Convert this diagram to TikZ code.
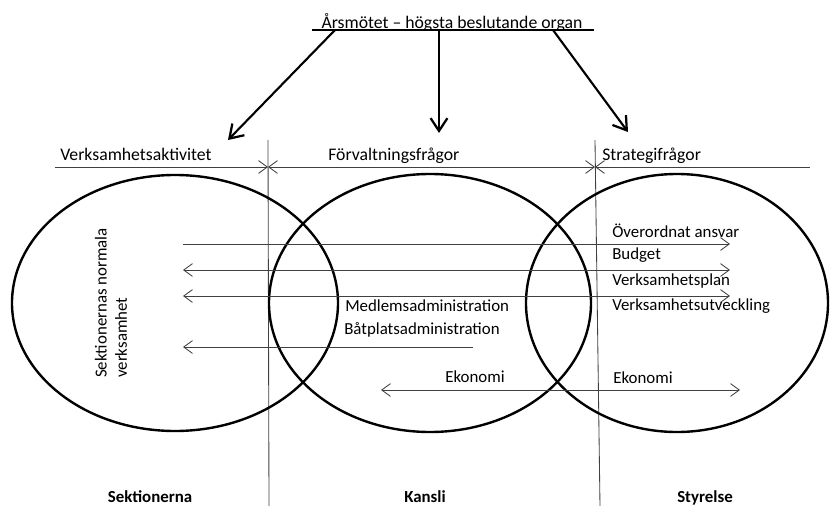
\documentclass[tikz,border=0pt]{standalone}
\usepackage{fontspec}
\setmainfont{Carlito}
\usepackage{tikz}
\usetikzlibrary{arrows.meta}

\begin{document}
\begin{tikzpicture}[x=0.025cm, y=-0.025cm,
  lbl/.style={font=\fontsize{12}{14.5}\selectfont, inner sep=0pt, anchor=base west},
  head/.style={lbl, font=\fontsize{12.6}{15}\selectfont},
  big/.style={line width=1.5pt, -{Straight Barb[length=3.2mm, width=4.2mm, line width=1.6pt]}},
  thinline/.style={line width=0.6pt, black!75},
  barb/.tip={Straight Barb[length=2.2mm, width=3.2mm, line width=0.6pt]},
  ring/.style={line width=1.7pt}]
\useasboundingbox (0,0) rectangle (830,506);
% title
\node[lbl, anchor=base, font=\fontsize{12.6}{15}\selectfont] (title) at (452,28) {Årsmötet – högsta beslutande organ};
\coordinate (tl) at (312,30);
\coordinate (tr) at (594,30);
\draw[line width=1.5pt] (tl)--(tr);
% arrows from the title
\coordinate (a0) at (335,30);
\coordinate (a1) at (439,30);
\coordinate (a2) at (553,30);
\coordinate (b0) at (228,140);
\coordinate (b1) at (439,133);
\coordinate (b2) at (628,132);
\draw[big] (a0)--(b0);
\draw[big] (a1)--(b1);
\draw[big] (a2)--(b2);
% headings
\node[head] (verk) at (60,160) {Verksamhetsaktivitet};
\node[head] (forv) at (328,160) {Förvaltningsfrågor};
\node[head] (strat) at (602,160) {Strategifrågor};
\coordinate (h0) at (55,167);
\coordinate (h1) at (268,167);
\coordinate (h2) at (595,167);
\coordinate (h3) at (810,167);
\draw[thinline, -barb] (h0)--(h1);
\draw[thinline, barb-barb] (h1)--(h2);
\draw[thinline, barb-] (h2)--(h3);
% dividers
\coordinate (v0) at (268,140);
\coordinate (v1) at (269,506);
\coordinate (w0) at (595,140);
\coordinate (w1) at (600,506);
\draw[thinline] (v0)--(v1);
\draw[thinline] (w0)--(w1);
% circles
\draw[ring] (175,303) ellipse [x radius=163, y radius=128];
\draw[ring] (430,303) ellipse [x radius=161, y radius=129];
\draw[ring] (677,303) ellipse [x radius=151, y radius=129];
% flows
\coordinate (s1) at (183,244);
\coordinate (e1) at (730,244);
\coordinate (s2) at (183,270);
\coordinate (e2) at (730,270);
\coordinate (s3) at (183,296);
\coordinate (e3) at (730,296);
\coordinate (s4) at (183,347);
\coordinate (e4) at (473,347);
\coordinate (s5) at (381,390);
\coordinate (e5) at (740,390);
\draw[thinline, -barb] (s1)--(e1);
\draw[thinline, barb-barb] (s2)--(e2);
\draw[thinline, barb-barb] (s3)--(e3);
\draw[thinline, barb-] (s4)--(e4);
\draw[thinline, barb-barb] (s5)--(e5);
% texts
\node[lbl] (ansvar) at (612,237) {Överordnat ansvar};
\node[lbl] (budget) at (612,259) {Budget};
\node[lbl] (plan) at (612,285) {Verksamhetsplan};
\node[lbl] (utv) at (612,310) {Verksamhetsutveckling};
\node[lbl] (ekst) at (613,383) {Ekonomi};
\node[lbl] (medl) at (345,311) {Medlemsadministration};
\node[lbl] (batp) at (344,334) {Båtplatsadministration};
\node[lbl] (ekka) at (445,382) {Ekonomi};
\node[lbl, anchor=center, rotate=90, align=left] (norm) at (111,303) {Sektionernas normala\\verksamhet};
% bottom
\node[lbl, anchor=base, font=\fontsize{12}{14.5}\selectfont\bfseries] (sekt) at (150,502) {Sektionerna};
\node[lbl, anchor=base, font=\fontsize{12}{14.5}\selectfont\bfseries] (kans) at (425,502) {Kansli};
\node[lbl, anchor=base, font=\fontsize{12}{14.5}\selectfont\bfseries] (styr) at (705,502) {Styrelse};
\end{tikzpicture}
\end{document}
